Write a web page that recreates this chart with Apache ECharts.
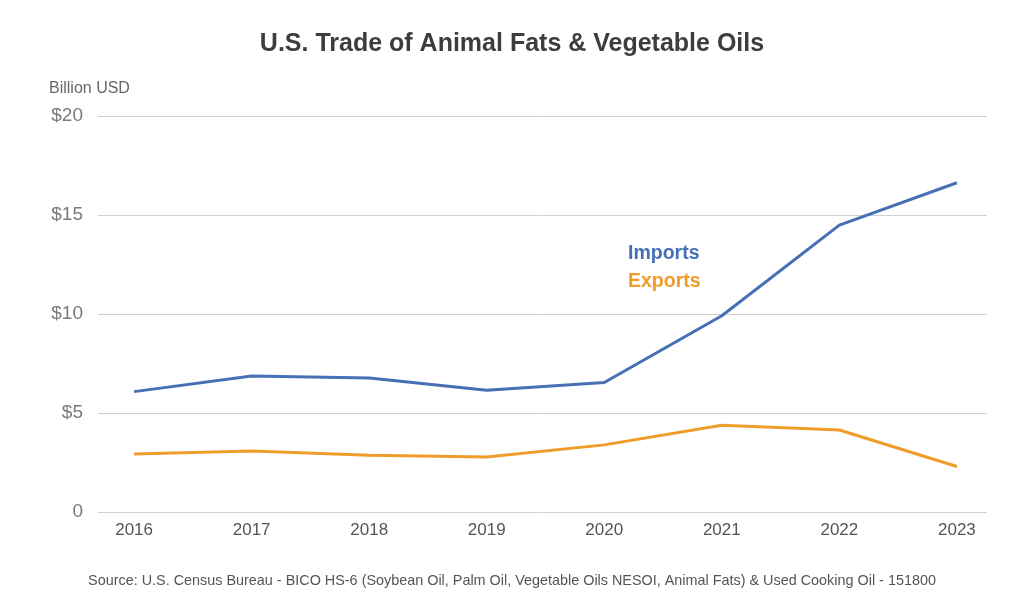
<!DOCTYPE html>
<html>
<head>
<meta charset="utf-8">
<script src="https://cdn.jsdelivr.net/npm/echarts@6/dist/echarts.min.js"></script>
<style>html,body{margin:0;padding:0;background:#fff}#c{width:1024px;height:611px}</style>
</head>
<body>
<div id="c"></div>
<script>
var years = [2016, 2017, 2018, 2019, 2020, 2021, 2022, 2023];
var imports = [6.08, 6.87, 6.77, 6.15, 6.54, 9.91, 14.49, 16.63];
var exports = [2.93, 3.08, 2.87, 2.78, 3.39, 4.38, 4.14, 2.30];
var yTickLabels = { 0: '0', 5: '$5', 10: '$10', 15: '$15', 20: '$20' };
var seriesNames = ['Imports', 'Exports'];
var colors = ['#4670B5', '#F09C2A'];

function pairs(vals) { return years.map(function (y, i) { return [y, vals[i]]; }); }

var chart = echarts.init(document.getElementById('c'));
chart.setOption({
  animation: false,
  backgroundColor: '#fff',
  title: [{
    text: 'U.S. Trade of Animal Fats & Vegetable Oils',
    left: 'center', top: 27,
    textStyle: { fontFamily: 'Liberation Sans, Arial, sans-serif', fontWeight: 'bold', fontSize: 25, color: '#3d3d3d' }
  }, {
    text: 'Billion USD',
    left: 44, top: 76,
    textStyle: { fontFamily: 'Liberation Sans, Arial, sans-serif', fontWeight: 'normal', fontSize: 16, color: '#666' }
  }, {
    text: 'Source: U.S. Census Bureau - BICO HS-6 (Soybean Oil, Palm Oil, Vegetable Oils NESOI, Animal Fats) & Used Cooking Oil - 151800',
    left: 'center', top: 569,
    textStyle: { fontFamily: 'Liberation Sans Narrow, Liberation Sans, Arial, sans-serif', fontWeight: 'normal', fontSize: 14.4, color: '#555' }
  }],
  legend: {
    orient: 'vertical', left: 618, top: 239, itemGap: 8,
    icon: 'none', itemWidth: 0, itemHeight: 0,
    textStyle: { fontFamily: 'Liberation Sans, Arial, sans-serif', fontWeight: 'bold', fontSize: 19.5 },
    data: seriesNames.map(function (n, i) { return { name: n, textStyle: { color: colors[i] } }; })
  },
  grid: { left: 98, right: 37, top: 116, bottom: 99 },
  xAxis: {
    type: 'value', min: 2015.693, max: 2023.256,
    axisLine: { show: false }, axisTick: { show: false }, splitLine: { show: false },
    axisLabel: {
      customValues: years, margin: 10,
      fontFamily: 'Liberation Sans, Arial, sans-serif', fontSize: 17, color: '#555',
      formatter: function (v) { return String(v); }
    }
  },
  yAxis: {
    type: 'value', min: 0, max: 20, interval: 5,
    axisLine: { show: false }, axisTick: { show: false },
    splitLine: { lineStyle: { color: '#cfcfcf', width: 1 } },
    axisLabel: {
      margin: 15, padding: [3, 0, 0, 0],
      fontFamily: 'Liberation Sans, Arial, sans-serif', fontSize: 19, color: '#7a7a7a',
      formatter: function (v) { return yTickLabels[v]; }
    }
  },
  series: [{
    name: seriesNames[0], type: 'line', data: pairs(imports), showSymbol: false,
    lineStyle: { color: colors[0], width: 3 }, itemStyle: { color: colors[0] }
  }, {
    name: seriesNames[1], type: 'line', data: pairs(exports), showSymbol: false,
    lineStyle: { color: colors[1], width: 3 }, itemStyle: { color: colors[1] }
  }]
});
</script>
</body>
</html>
